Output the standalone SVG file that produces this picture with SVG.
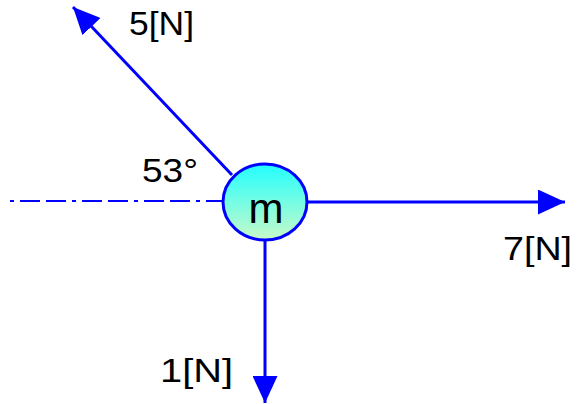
<svg xmlns="http://www.w3.org/2000/svg" width="581" height="404" viewBox="0 0 581 404">
<defs>
<linearGradient id="g" x1="0" y1="0" x2="0" y2="1">
<stop offset="0" stop-color="#22FFFF"/>
<stop offset="1" stop-color="#C8FAC8"/>
</linearGradient>
<marker id="ah" viewBox="0 0 27 25" refX="27" refY="12.5" markerWidth="27" markerHeight="25" markerUnits="userSpaceOnUse" orient="auto">
<path d="M0,0 L27,12.5 L0,25 Z" fill="#0000FF"/>
</marker>
<style>
.f{stroke:#0000FF;stroke-width:3;fill:none}
.t{font-family:"Liberation Sans",Arial,sans-serif;font-size:34px;fill:#000}
</style>
</defs>
<rect width="581" height="404" fill="#FFFFFF"/>
<g id="connectors">
<line x1="10" y1="201" x2="223" y2="201" stroke="#0000FF" stroke-width="2" stroke-dasharray="4,6,20,6,20,6"/>
<line class="f" x1="307" y1="202" x2="565" y2="202" marker-end="url(#ah)"/>
<line class="f" x1="265" y1="240" x2="265" y2="403" marker-end="url(#ah)"/>
<line class="f" x1="232" y1="175" x2="73" y2="7" marker-end="url(#ah)"/>
</g>
<g id="mass">
<ellipse cx="265" cy="202" rx="42" ry="38" fill="url(#g)" stroke="#0000FF" stroke-width="3"/>
<text class="t" x="266" y="223" text-anchor="middle" style="font-size:42px">m</text>
</g>
<g id="labels">
<text class="t" x="129" y="35" textLength="65" lengthAdjust="spacingAndGlyphs">5[N]</text>
<text class="t" x="142" y="182" textLength="56" lengthAdjust="spacingAndGlyphs">53°</text>
<text class="t" x="503" y="260" textLength="69" lengthAdjust="spacingAndGlyphs">7[N]</text>
<text class="t" x="160" y="382" textLength="73" lengthAdjust="spacingAndGlyphs">1[N]</text>
</g>
</svg>
